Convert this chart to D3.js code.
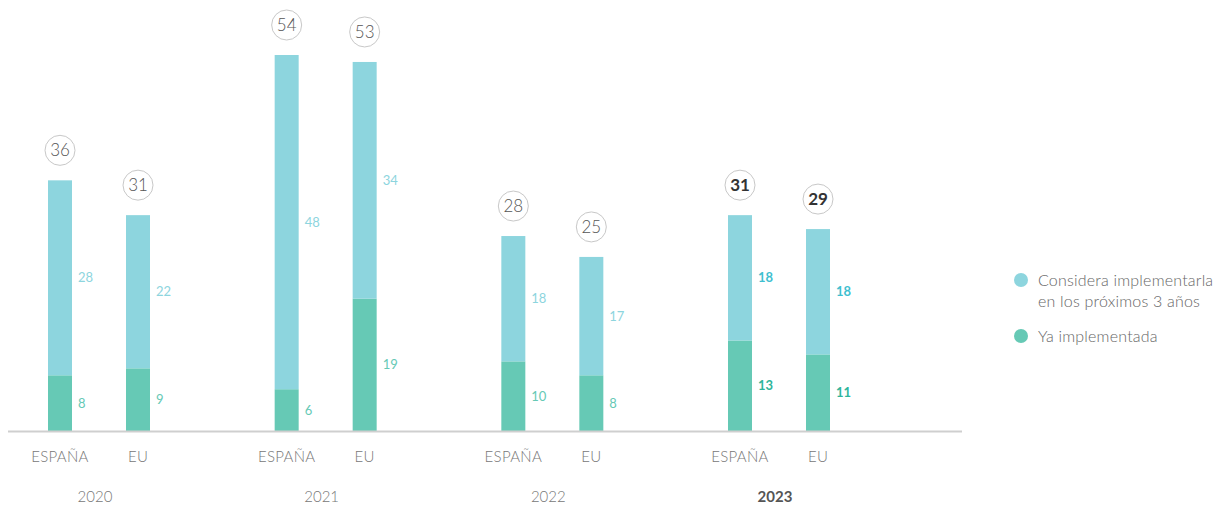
<!DOCTYPE html>
<html>
<head>
<meta charset="utf-8">
<script src="https://cdn.jsdelivr.net/npm/d3@7"></script>
<style>
  body { margin: 0; background: #fff; }
  svg { display: block; font-family: Lato, "Noto Sans", sans-serif; }
</style>
</head>
<body>
<svg id="chart" width="1228" height="508"></svg>
<script>
const years = ["2020", "2021", "2022", "2023"];
const regions = ["ESPAÑA", "EU"];
// values ordered year by year: [ESPAÑA, EU]
const implemented = [[8, 9], [6, 19], [10, 8], [13, 11]];
const considering = [[28, 22], [48, 34], [18, 17], [18, 18]];
const totals = [[36, 31], [54, 53], [28, 25], [31, 29]];
const legendLabels = [["Considera implementarla", "en los próximos 3 años"], ["Ya implementada"]];
const highlightYear = "2023";

const colBlue = "#8dd5de", colGreen = "#66c9b5";

const svg = d3.select("#chart");
const baseY = 431;
const y = d3.scaleLinear().domain([0, 54]).range([baseY, 55]);
const xYear = d3.scalePoint().domain(years).range([99, 779]);
const xReg = d3.scalePoint().domain(regions).range([-39, 39]);
const bw = 24;

const data = [];
years.forEach((yr, i) => regions.forEach((r, j) => {
  data.push({ year: yr, region: r, impl: implemented[i][j], cons: considering[i][j], total: totals[i][j] });
}));

const g = svg.append("g");
const bars = g.selectAll("g.bar").data(data).join("g")
  .attr("transform", d => `translate(${xYear(d.year) + xReg(d.region)},0)`);

// green segment
bars.append("rect").attr("x", -bw / 2).attr("width", bw)
  .attr("y", d => y(d.impl)).attr("height", d => baseY - y(d.impl)).attr("fill", colGreen);
// blue segment
bars.append("rect").attr("x", -bw / 2).attr("width", bw)
  .attr("y", d => y(d.impl + d.cons)).attr("height", d => y(d.impl) - y(d.impl + d.cons)).attr("fill", colBlue);

// segment labels
bars.append("text").attr("x", bw / 2 + 6)
  .attr("y", d => (y(d.impl) + baseY) / 2).attr("dy", "0.35em")
  .attr("font-size", 13)
  .attr("font-weight", d => d.year === highlightYear ? 700 : 400)
  .attr("fill", d => d.year === highlightYear ? "#2fb59b" : colGreen)
  .text(d => d.impl);
bars.append("text").attr("x", bw / 2 + 6)
  .attr("y", d => (y(d.impl) + y(d.impl + d.cons)) / 2).attr("dy", "0.35em")
  .attr("font-size", 13)
  .attr("font-weight", d => d.year === highlightYear ? 700 : 400)
  .attr("fill", d => d.year === highlightYear ? "#3fbfd0" : colBlue)
  .text(d => d.cons);

// total circles
bars.append("circle").attr("cx", 0).attr("cy", d => y(d.total) - 30).attr("r", 15)
  .attr("fill", "#fff").attr("stroke", "#c8c8c8").attr("stroke-width", 1);
bars.append("text").attr("x", 0).attr("y", d => y(d.total) - 30).attr("dy", "0.36em")
  .attr("text-anchor", "middle").attr("font-size", 17)
  .attr("font-weight", d => d.year === highlightYear ? 700 : 300)
  .attr("fill", d => d.year === highlightYear ? "#333" : "#555")
  .text(d => d.total);

// baseline
svg.append("line").attr("x1", 8).attr("x2", 962).attr("y1", baseY + 0.5).attr("y2", baseY + 0.5)
  .attr("stroke", "#cfcfcf").attr("stroke-width", 2);

// region labels
bars.append("text").attr("x", 0).attr("y", 462).attr("text-anchor", "middle")
  .attr("font-size", 15).attr("font-weight", 300).attr("fill", "#777").attr("letter-spacing", "0.3px")
  .text(d => d.region);

// year labels
svg.selectAll("text.year").data(years).join("text").attr("class", "year")
  .attr("x", d => xYear(d) - 4).attr("y", 502).attr("text-anchor", "middle")
  .attr("font-size", 15)
  .attr("font-weight", d => d === highlightYear ? 700 : 300)
  .attr("fill", d => d === highlightYear ? "#555" : "#777")
  .text(d => d);

// legend
const legend = svg.append("g").attr("transform", "translate(1021,0)");
const legendY = [280, 336];
const legendCols = [colBlue, colGreen];
legendLabels.forEach((lines, i) => {
  legend.append("circle").attr("cx", 0).attr("cy", legendY[i]).attr("r", 7).attr("fill", legendCols[i]);
  lines.forEach((t, k) => {
    legend.append("text").attr("x", 17).attr("y", legendY[i] + k * 21).attr("dy", "0.35em")
      .attr("font-size", 16).attr("font-weight", 300).attr("letter-spacing", "0.2px")
      .attr("fill", "#666").text(t);
  });
});
</script>
</body>
</html>
